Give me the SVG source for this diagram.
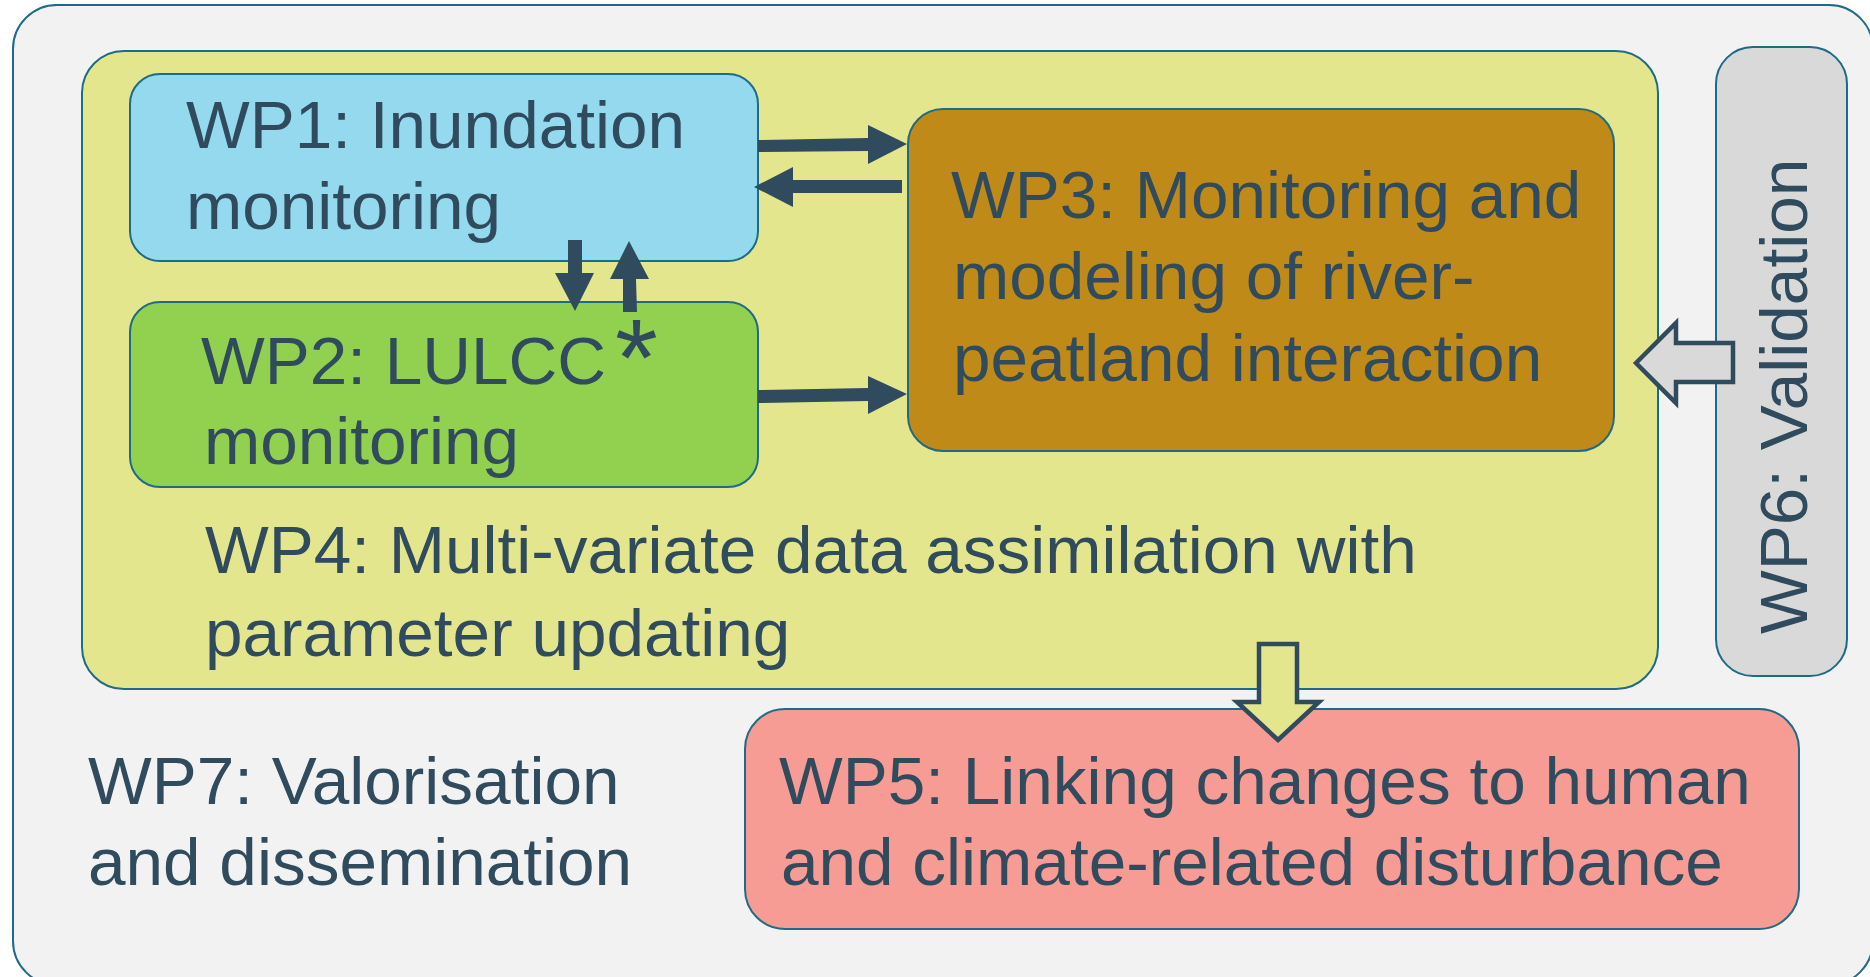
<svg xmlns="http://www.w3.org/2000/svg" width="1870" height="977" viewBox="0 0 1870 977">
  <defs>
    <style>
      .box { stroke: #1e6b87; stroke-width: 2; }
      .lbl { font-family: "Liberation Sans", Arial, sans-serif; font-size: 67.5px; fill: #2f4b5d; }
      .mark { font-family: "Liberation Sans", Arial, sans-serif; font-size: 110px; fill: #2f4b5d; }
      .conn { fill: #2f4b5d; stroke: none; }
      .block { stroke: #2f4b5d; stroke-width: 4.5; stroke-linejoin: miter; }
    </style>
  </defs>

  <rect width="1870" height="977" fill="#ffffff"/>

  <!-- WP7: outer frame -->
  <g id="wp7">
    <rect class="box" x="13" y="5" width="1860" height="980" rx="44" ry="44" fill="#f2f2f2" stroke-width="2.5"/>
    <text class="lbl" x="88" y="804">WP7: Valorisation</text>
    <text class="lbl" x="88" y="885">and dissemination</text>
  </g>

  <!-- WP4: data assimilation container -->
  <g id="wp4">
    <rect class="box" x="82" y="51" width="1576" height="638" rx="42" ry="42" fill="#e4e68e"/>
    <text class="lbl" x="205" y="573">WP4: Multi-variate data assimilation with</text>
    <text class="lbl" x="205" y="656">parameter updating</text>
  </g>

  <!-- WP1 -->
  <g id="wp1">
    <rect class="box" x="130" y="74" width="628" height="187" rx="30" ry="30" fill="#95d9ef"/>
    <text class="lbl" x="186" y="148">WP1: Inundation</text>
    <text class="lbl" x="186" y="229">monitoring</text>
  </g>

  <!-- WP2 -->
  <g id="wp2">
    <rect class="box" x="130" y="302" width="628" height="185" rx="30" ry="30" fill="#92d050"/>
    <text class="lbl" x="201" y="384">WP2: LULCC</text>
    <text class="mark" x="615" y="395">*</text>
    <text class="lbl" x="204" y="464">monitoring</text>
  </g>

  <!-- WP3 -->
  <g id="wp3">
    <rect class="box" x="908" y="109" width="706" height="342" rx="35" ry="35" fill="#bf8a17"/>
    <text class="lbl" x="951" y="218">WP3: Monitoring and</text>
    <text class="lbl" x="953" y="299">modeling of river-</text>
    <text class="lbl" x="953" y="381">peatland interaction</text>
  </g>

  <!-- WP6 -->
  <g id="wp6">
    <rect class="box" x="1716" y="47" width="131" height="629" rx="37" ry="37" fill="#d9d9d9"/>
    <text class="lbl" transform="translate(1807,634) rotate(-90)" x="0" y="0">WP6: Validation</text>
  </g>

  <!-- WP5 -->
  <g id="wp5">
    <rect class="box" x="745" y="709" width="1054" height="220" rx="40" ry="40" fill="#f69c94"/>
    <text class="lbl" x="779" y="804">WP5: Linking changes to human</text>
    <text class="lbl" x="781" y="885">and climate-related disturbance</text>
  </g>

  <!-- connectors -->
  <g id="connectors">
    <!-- WP1 to WP3 -->
    <polygon class="conn" points="758,140 868,138 868,125 907,144 868,164 868,151 758,152"/>
    <!-- WP3 to WP1 -->
    <polygon class="conn" points="902,180 793,180 793,167 754,187 793,207 793,193 902,193"/>
    <!-- WP2 to WP3 -->
    <polygon class="conn" points="758,390 868,388 868,376 907,394 868,414 868,401 758,403"/>
    <!-- WP1 to WP2 -->
    <polygon class="conn" points="568,240 582,240 582,273 594,273 575,311 555,273 568,273"/>
    <!-- WP2 to WP1 -->
    <polygon class="conn" points="623,312 637,312 636,279 649,279 629,241 610,279 623,279"/>
    <!-- WP6 validation feed into WP3 -->
    <polygon class="block" fill="#d9d9d9" points="1636,363 1676,323 1676,343 1733,343 1733,382 1676,382 1676,403"/>
    <!-- WP4 output into WP5 -->
    <polygon class="block" fill="#e4e68e" points="1259,644 1297,644 1297,702 1319,702 1278,740 1237,702 1259,702"/>
  </g>
</svg>
